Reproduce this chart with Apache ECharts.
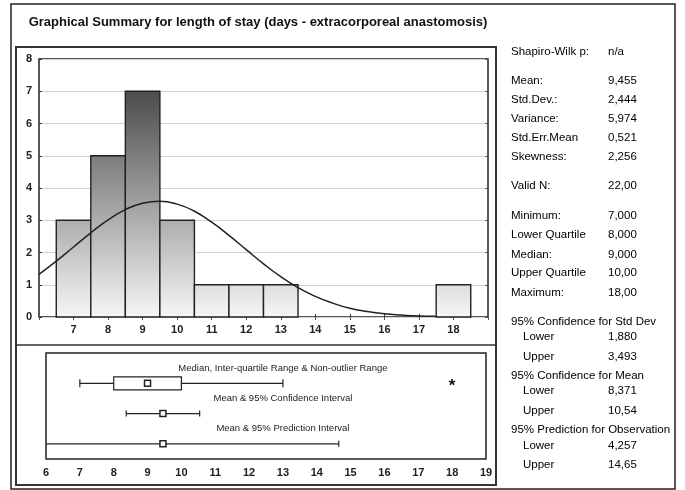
<!DOCTYPE html>
<html>
<head>
<meta charset="utf-8">
<script src="https://cdn.jsdelivr.net/npm/echarts@6/dist/echarts.min.js"></script>
<style>html,body{margin:0;padding:0;background:#fff;}#c{width:685px;height:490px;}</style>
</head>
<body>
<div id="c"></div>
<script>
// ---------- data ----------
const titleText = 'Graphical Summary for length of stay (days - extracorporeal anastomosis)';
const binCenters = [7, 8, 9, 10, 11, 12, 13, 14, 15, 16, 17, 18];
const binCounts  = [3, 5, 7, 3, 1, 1, 1, 0, 0, 0, 0, 1];
const curveX = [6, 6.5, 7, 7.5, 8, 8.5, 9, 9.5, 10, 10.5, 11, 11.5, 12, 12.5, 13, 13.5, 14, 14.5, 15, 15.5, 16, 16.5, 17, 17.5];
const curveY = [1.32, 1.73, 2.17, 2.61, 3.01, 3.33, 3.53, 3.59, 3.50, 3.28, 2.94, 2.53, 2.09, 1.65, 1.25, 0.91, 0.64, 0.43, 0.27, 0.17, 0.10, 0.06, 0.03, 0.02];
const boxRow = [7, 8, 9, 10, 13];          // non-outlier min, Q1, median, Q3, non-outlier max
const outliers = [18];
const meanCI = [8.371, 9.455, 10.54];      // lower, mean, upper
const meanPI = [4.257, 9.455, 14.65];
const rowLabels = ['Median, Inter-quartile Range & Non-outlier Range', 'Mean & 95% Confidence Interval', 'Mean & 95% Prediction Interval'];
const statLabels = ['Shapiro-Wilk p:', 'Mean:', 'Std.Dev.:', 'Variance:', 'Std.Err.Mean', 'Skewness:', 'Valid N:',
  'Minimum:', 'Lower Quartile', 'Median:', 'Upper Quartile', 'Maximum:',
  '95% Confidence for Std Dev', 'Lower', 'Upper', '95% Confidence for Mean', 'Lower', 'Upper',
  '95% Prediction for Observation', 'Lower', 'Upper'];
const statValues = ['n/a', '9,455', '2,444', '5,974', '0,521', '2,256', '22,00',
  '7,000', '8,000', '9,000', '10,00', '18,00',
  '', '1,880', '3,493', '', '8,371', '10,54', '', '4,257', '14,65'];

// ---------- layout ----------
const statY = [52, 81, 100, 119, 138, 157, 186, 216, 235, 255, 273, 293, 322, 337, 357, 376, 391, 411, 430, 446, 465];
const FONT = '"Liberation Sans", Arial, sans-serif';

const chart = echarts.init(document.getElementById('c'), null, {renderer: 'canvas'});

const graphics = [
  {type: 'rect', shape: {x: 11, y: 4, width: 664, height: 485}, style: {fill: 'none', stroke: '#222', lineWidth: 1.5}, z: 0},
  {type: 'rect', shape: {x: 16, y: 47, width: 480, height: 438}, style: {fill: 'none', stroke: '#333', lineWidth: 2}, z: 0},
  {type: 'line', shape: {x1: 16, y1: 345, x2: 496, y2: 345}, style: {stroke: '#333', lineWidth: 1.5}, z: 0},
  {type: 'text', x: 258, y: 22, style: {text: titleText, font: 'bold 13px ' + FONT, fill: '#111', textAlign: 'center', textVerticalAlign: 'middle'}}
];
statLabels.forEach((lab, i) => {
  const indent = (lab === 'Lower' || lab === 'Upper') ? 523 : 511;
  graphics.push({type: 'text', x: indent, y: statY[i], style: {text: lab, font: '11.5px ' + FONT, fill: '#000', textVerticalAlign: 'middle'}});
  if (statValues[i]) {
    graphics.push({type: 'text', x: 608, y: statY[i], style: {text: statValues[i], font: '11.5px ' + FONT, fill: '#000', textVerticalAlign: 'middle'}});
  }
});

const labelStyle = {color: '#222', fontFamily: FONT, fontWeight: 'bold', fontSize: 11};

const option = {
  animation: false,
  backgroundColor: '#fff',
  graphic: graphics,
  grid: [
    {left: 39, top: 59, width: 449, height: 258, show: true, borderColor: '#222', borderWidth: 1.5, backgroundColor: 'transparent'},
    {left: 46, top: 353, width: 440, height: 106, show: true, borderColor: '#222', borderWidth: 1.5, backgroundColor: 'transparent'}
  ],
  xAxis: [
    {gridIndex: 0, type: 'value', min: 6, max: 19, interval: 1, axisLine: {show: false},
     axisTick: {show: true, inside: true, length: 3, lineStyle: {color: '#333'}},
     axisLabel: Object.assign({margin: 7, showMinLabel: false, showMaxLabel: false}, labelStyle), splitLine: {show: false}},
    {gridIndex: 0, type: 'value', position: 'top', min: 6, max: 19, interval: 1, axisLine: {show: false},
     axisTick: {show: true, inside: true, length: 3, lineStyle: {color: '#555'}}, axisLabel: {show: false}, splitLine: {show: false}},
    {gridIndex: 1, type: 'value', min: 6, max: 19, interval: 1, axisLine: {show: false}, axisTick: {show: false},
     axisLabel: Object.assign({margin: 8}, labelStyle), splitLine: {show: false}}
  ],
  yAxis: [
    {gridIndex: 0, type: 'value', min: 0, max: 8, interval: 1, axisLine: {show: false},
     axisTick: {show: true, inside: true, length: 3, lineStyle: {color: '#333'}},
     axisLabel: Object.assign({margin: 7}, labelStyle),
     splitLine: {show: true, lineStyle: {color: '#d2d2d2', width: 1}}},
    {gridIndex: 0, type: 'value', position: 'right', min: 0, max: 8, interval: 1, axisLine: {show: false},
     axisTick: {show: true, inside: true, length: 3, lineStyle: {color: '#555'}}, axisLabel: {show: false}, splitLine: {show: false}},
    {gridIndex: 1, type: 'value', min: 0, max: 3.5, inverse: true, show: false}
  ],
  series: [
    {
      type: 'custom', xAxisIndex: 0, yAxisIndex: 0, z: 2,
      data: binCenters.map((c, i) => [c, binCounts[i]]),
      renderItem: function (params, api) {
        const x = api.value(0), v = api.value(1);
        if (!v) return null;
        const p0 = api.coord([x - 0.5, v]);
        const p1 = api.coord([x + 0.5, 0]);
        const yTop = api.coord([x, 7])[1];
        const yBase = api.coord([x, 0])[1];
        return {
          type: 'rect',
          shape: {x: p0[0], y: p0[1], width: p1[0] - p0[0], height: p1[1] - p0[1]},
          style: {
            fill: new echarts.graphic.LinearGradient(0, yTop, 0, yBase, [
              {offset: 0, color: '#4c4c4c'}, {offset: 1, color: '#f6f6f6'}], true),
            stroke: '#222', lineWidth: 1.4
          }
        };
      }
    },
    {
      type: 'line', xAxisIndex: 0, yAxisIndex: 0, z: 3, smooth: true, symbol: 'none',
      data: curveX.map((x, i) => [x, curveY[i]]),
      lineStyle: {color: '#222', width: 1.5}
    },
    {
      type: 'custom', xAxisIndex: 2, yAxisIndex: 2, clip: true, z: 3,
      data: [[1].concat(boxRow)],
      renderItem: function (params, api) {
        const r = api.value(0);
        const lo = api.coord([api.value(1), r]), q1 = api.coord([api.value(2), r]),
              md = api.coord([api.value(3), r]), q3 = api.coord([api.value(4), r]), hi = api.coord([api.value(5), r]);
        const y = lo[1], bh = 13, cap = 4, sq = 3;
        const ls = {stroke: '#222', lineWidth: 1.2};
        return {type: 'group', children: [
          {type: 'line', shape: {x1: lo[0], y1: y, x2: q1[0], y2: y}, style: ls},
          {type: 'line', shape: {x1: q3[0], y1: y, x2: hi[0], y2: y}, style: ls},
          {type: 'line', shape: {x1: lo[0], y1: y - cap, x2: lo[0], y2: y + cap}, style: ls},
          {type: 'line', shape: {x1: hi[0], y1: y - cap, x2: hi[0], y2: y + cap}, style: ls},
          {type: 'rect', shape: {x: q1[0], y: y - bh / 2, width: q3[0] - q1[0], height: bh}, style: {fill: '#fff', stroke: '#222', lineWidth: 1.2}},
          {type: 'rect', shape: {x: md[0] - sq, y: y - sq, width: sq * 2, height: sq * 2}, style: {fill: '#fff', stroke: '#222', lineWidth: 1.5}}
        ]};
      }
    },
    {
      type: 'custom', xAxisIndex: 2, yAxisIndex: 2, clip: true, z: 3,
      data: [[2].concat(meanCI), [3].concat(meanPI)],
      renderItem: function (params, api) {
        const r = api.value(0);
        const lo = api.coord([api.value(1), r]), m = api.coord([api.value(2), r]), hi = api.coord([api.value(3), r]);
        const y = lo[1], cap = 3, sq = 3;
        const ls = {stroke: '#222', lineWidth: 1.2};
        return {type: 'group', children: [
          {type: 'line', shape: {x1: lo[0], y1: y, x2: hi[0], y2: y}, style: ls},
          {type: 'line', shape: {x1: lo[0], y1: y - cap, x2: lo[0], y2: y + cap}, style: ls},
          {type: 'line', shape: {x1: hi[0], y1: y - cap, x2: hi[0], y2: y + cap}, style: ls},
          {type: 'rect', shape: {x: m[0] - sq, y: y - sq, width: sq * 2, height: sq * 2}, style: {fill: '#fff', stroke: '#222', lineWidth: 1.5}}
        ]};
      }
    },
    {
      type: 'custom', xAxisIndex: 2, yAxisIndex: 2, z: 4,
      data: outliers.map(o => [o, 1]),
      renderItem: function (params, api) {
        const p = api.coord([api.value(0), api.value(1)]);
        return {type: 'text', x: p[0], y: p[1] + 3, style: {text: '*', font: 'bold 17px ' + FONT, fill: '#111', textAlign: 'center', textVerticalAlign: 'middle'}};
      }
    },
    {
      type: 'custom', xAxisIndex: 2, yAxisIndex: 2, z: 4,
      data: rowLabels.map((t, i) => [13, i + 1, t]),
      renderItem: function (params, api) {
        const p = api.coord([api.value(0), api.value(1)]);
        return {type: 'text', x: p[0], y: p[1] - 15, style: {text: rowLabels[params.dataIndex], font: '9.5px ' + FONT, fill: '#222', textAlign: 'center', textVerticalAlign: 'middle'}};
      }
    }
  ]
};
chart.setOption(option);
</script>
</body>
</html>
